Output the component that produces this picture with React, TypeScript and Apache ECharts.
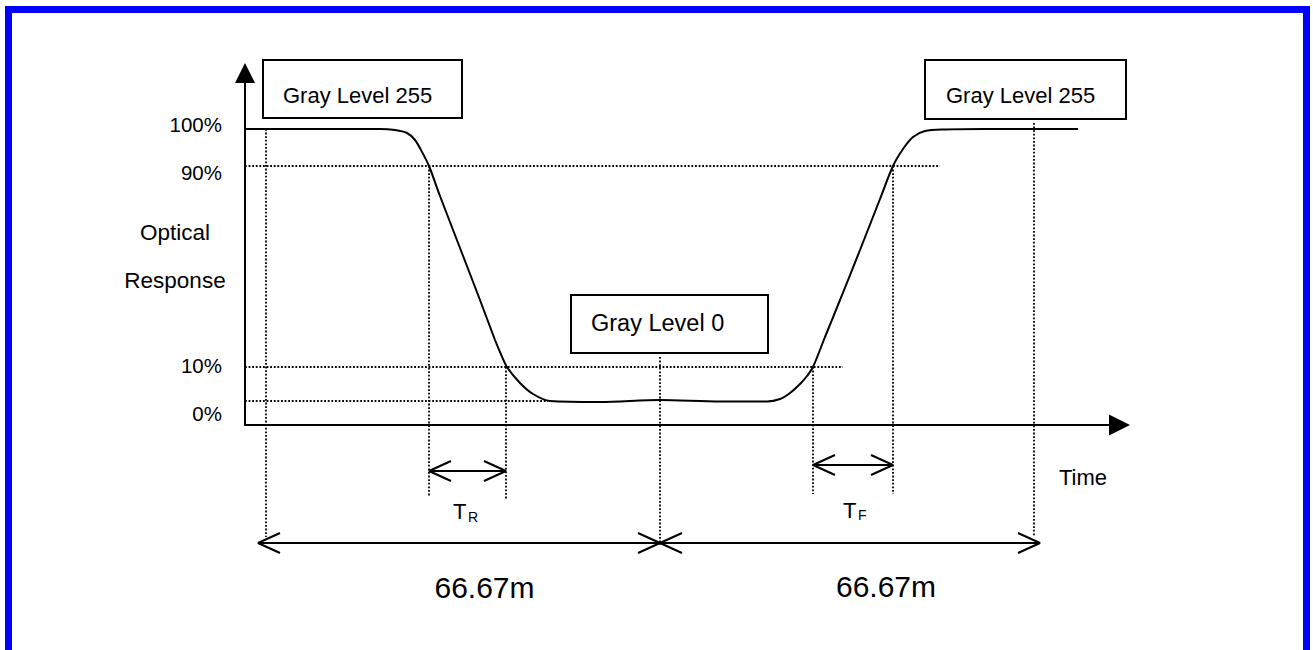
import React, { useEffect, useRef } from "react";
import * as echarts from "echarts";

// ---- data (diagram units: time along x, optical response along y) ----
const curveTime = [0, 135, 150, 162, 170, 176, 184, 195, 215, 235, 250, 255, 262, 275, 288, 305, 355, 415, 475, 522, 535, 545, 556, 562, 568, 580, 595, 615, 635, 648, 658, 668, 680, 700, 740, 790, 833];
const curveResponse = [296, 296, 295, 292, 285, 275, 259, 229, 177, 125, 85, 73, 58, 42, 31, 24, 23, 25, 23.5, 23.5, 26, 32, 42, 49, 58, 88, 125, 175, 226, 259, 276, 288, 294, 295.5, 296, 296, 296];

const levelLabels = ["0%", "10%", "90%", "100%"];
const levelLabelPos = [12, 60, 253, 300.5];

const guideLevels = [24, 58, 259];
const guideLevelEnds = [303, 598, 695];

const guideTimes = [21, 184, 261, 415, 568, 648, 789];
const guideTops = [296, 259, 58, 68, 58, 259, 302];
const guideBottoms = [-112, -72, -74, -120, -69, -69, -112];

const dimStarts = [13, 415, 184, 568];
const dimEnds = [415, 795, 261, 648];
const dimLevels = [-118, -118, -46, -40];

const boxTexts = ["Gray Level 255", "Gray Level 0", "Gray Level 255"];
const spanLabels = ["66.67m", "66.67m"];

const FONT = '"Liberation Sans", Arial, Helvetica, sans-serif';

function txt(text: string, x: number, y: number, size: number, align = "left") {
  return {
    type: "text",
    silent: true,
    style: {
      text,
      x,
      y,
      fontSize: size,
      fontFamily: FONT,
      fill: "#000",
      align,
      textAlign: align,
      verticalAlign: "middle",
      textVerticalAlign: "middle",
    },
  };
}

function box(x: number, y: number, w: number, h: number) {
  return {
    type: "rect",
    silent: true,
    shape: { x, y, width: w, height: h },
    style: { fill: "#fff", stroke: "#000", lineWidth: 2 },
  };
}

export default function App() {
  const ref = useRef<HTMLDivElement>(null);

  useEffect(() => {
    if (!ref.current) return;
    const chart = echarts.init(ref.current, null, { renderer: "svg" });

    const dotted = { color: "#000", width: 1.8, type: [1.8, 1.8] };
    const solid = { color: "#000", width: 2 };
    const ARM = 22;
    const HALF = 10;

    const series: any[] = [];

    guideLevels.forEach((y, i) => {
      series.push({
        type: "line",
        data: [[0, y], [guideLevelEnds[i], y]],
        symbol: "none",
        lineStyle: dotted,
        clip: false,
        silent: true,
        z: 1,
      });
    });

    guideTimes.forEach((t, i) => {
      series.push({
        type: "line",
        data: [[t, guideTops[i]], [t, guideBottoms[i]]],
        symbol: "none",
        lineStyle: dotted,
        clip: false,
        silent: true,
        z: 1,
      });
    });

    dimStarts.forEach((s, i) => {
      const e = dimEnds[i];
      const y = dimLevels[i];
      series.push({
        type: "line",
        data: [[s, y], [e, y]],
        symbol: "none",
        lineStyle: solid,
        clip: false,
        silent: true,
        z: 2,
      });
      series.push({
        type: "line",
        data: [[s + ARM, y + HALF], [s, y], [s + ARM, y - HALF]],
        symbol: "none",
        lineStyle: solid,
        clip: false,
        silent: true,
        z: 2,
      });
      series.push({
        type: "line",
        data: [[e - ARM, y + HALF], [e, y], [e - ARM, y - HALF]],
        symbol: "none",
        lineStyle: solid,
        clip: false,
        silent: true,
        z: 2,
      });
    });

    series.push({
      type: "line",
      data: curveTime.map((t, i) => [t, curveResponse[i]]),
      smooth: 0.3,
      symbol: "none",
      lineStyle: solid,
      clip: false,
      silent: true,
      z: 3,
    });

    chart.setOption({
      animation: false,
      backgroundColor: "#fff",
      grid: { left: 245, top: 73, right: 193.5, bottom: 225 },
      xAxis: {
        type: "value",
        min: 0,
        max: 874.5,
        axisLine: {
          show: true,
          lineStyle: { color: "#000", width: 2 },
          symbol: ["none", "triangle"],
          symbolSize: [21, 21],
        },
        axisTick: { show: false },
        axisLabel: { show: false },
        splitLine: { show: false },
      },
      yAxis: {
        type: "value",
        min: 0,
        max: 352,
        axisLine: {
          show: true,
          lineStyle: { color: "#000", width: 2 },
          symbol: ["none", "triangle"],
          symbolSize: [20, 20],
        },
        axisTick: { show: false },
        splitLine: { show: false },
        axisLabel: {
          show: true,
          customValues: levelLabelPos,
          formatter: (v: number) => {
            const idx = levelLabelPos.indexOf(v);
            return idx >= 0 ? levelLabels[idx] : "";
          },
          margin: 23,
          color: "#000",
          fontSize: 20.5,
          fontFamily: FONT,
        },
      },
      series,
      graphic: [
        {
          type: "rect",
          silent: true,
          shape: { x: 8.5, y: 9.5, width: 1298, height: 700 },
          style: { fill: "none", stroke: "#0000FF", lineWidth: 7 },
          z: 0,
        },
        box(263, 60, 199, 58),
        txt(boxTexts[0], 283, 95.5, 22),
        box(571, 295, 197, 58),
        txt(boxTexts[1], 591, 323, 23.5),
        box(925, 60, 201, 59),
        txt(boxTexts[2], 946, 95, 22),
        txt("Optical", 175, 232.5, 22.5, "center"),
        txt("Response", 175, 280, 22.5, "center"),
        txt("Time", 1083, 477.5, 22, "center"),
        txt("T", 453, 511, 22),
        txt("R", 468, 516.5, 14),
        txt("T", 843, 510, 22),
        txt("F", 858, 515, 14),
        txt(spanLabels[0], 484.5, 587.5, 30, "center"),
        txt(spanLabels[1], 886, 586, 30, "center"),
      ],
    });

    return () => chart.dispose();
  }, []);

  return (
    <div
      ref={ref}
      style={{ position: "fixed", left: 0, top: 0, width: 1313, height: 650 }}
    />
  );
}
